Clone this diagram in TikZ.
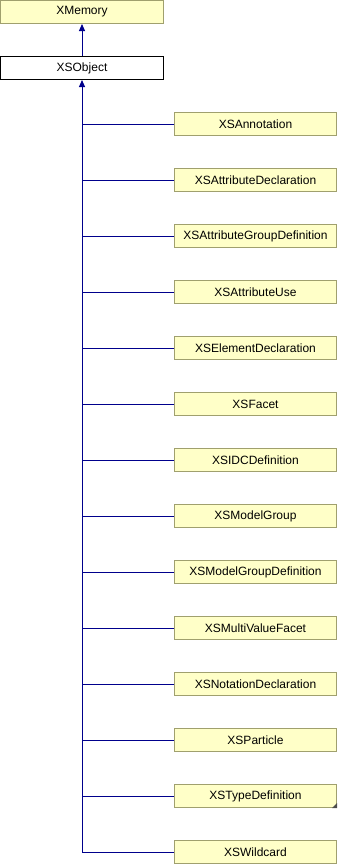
\documentclass[tikz,border=0pt]{standalone}
\usepackage{fontspec}
\setmainfont{Liberation Sans}
\usepackage{xcolor}
\usepackage{tikz}
\usetikzlibrary{positioning,arrows.meta}
\definecolor{boxfill}{RGB}{255,255,200}
\definecolor{boxline}{RGB}{160,160,110}
\definecolor{linkblue}{RGB}{0,0,140}

\begin{document}
\begin{tikzpicture}[x=1bp,y=-1bp,
    cls/.style={draw=boxline,fill=boxfill,line width=1bp,minimum width=163bp,
        minimum height=23bp,inner sep=0pt,font=\fontsize{12bp}{14bp}\selectfont},
    inherit/.style={linkblue,line width=1bp}]
\useasboundingbox (0,0) rectangle (338,864);

% Base classes
\node[cls] (XMemory) at (82,12) {XMemory};
\node[cls,draw=black,fill=white] (XSObject) at (82,68) {XSObject};

% Derived classes
\foreach \name [count=\i] in {XSAnnotation,XSAttributeDeclaration,XSAttributeGroupDefinition,
    XSAttributeUse,XSElementDeclaration,XSFacet,XSIDCDefinition,XSModelGroup,
    XSModelGroupDefinition,XSMultiValueFacet,XSNotationDeclaration,XSParticle,
    XSTypeDefinition,XSWildcard}
    \node[cls,minimum width=162bp] (\name) at (255.5,68+56*\i) {\name};

% folded corner
\fill[gray!60!black] (XSTypeDefinition.south east) -- ++(-5,0) -- ++(5,-5) -- cycle;

% Inheritance lines
\foreach \name in {XSAnnotation,XSAttributeDeclaration,XSAttributeGroupDefinition,
    XSAttributeUse,XSElementDeclaration,XSFacet,XSIDCDefinition,XSModelGroup,
    XSModelGroupDefinition,XSMultiValueFacet,XSNotationDeclaration,XSParticle,
    XSTypeDefinition,XSWildcard}
    \draw[inherit] (\name.west) -- (\name.west -| XSObject.south);
\coordinate (trunk) at (XSWildcard.west -| XSObject.south);
\draw[inherit,-{Triangle[length=7bp,width=6bp]}] (trunk) -- (XSObject.south);
\draw[inherit,-{Triangle[length=7bp,width=6bp]}] (XSObject.north) -- (XMemory.south);
\end{tikzpicture}
\end{document}
